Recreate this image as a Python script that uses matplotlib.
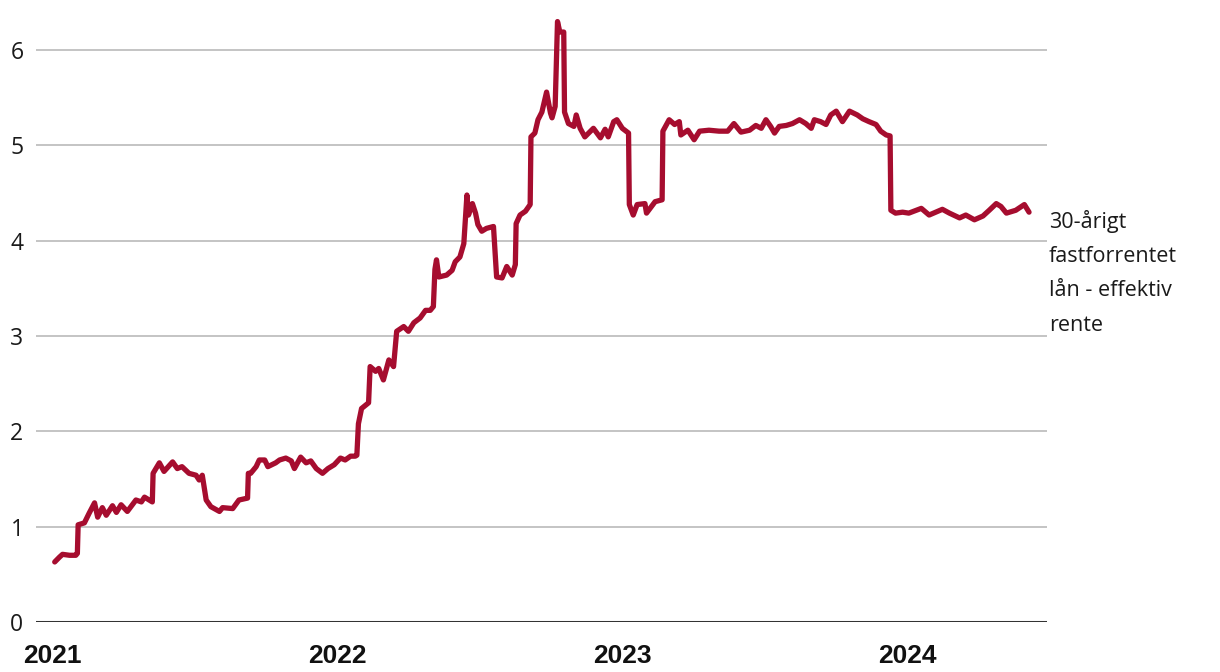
"""30-årigt fastforrentet lån - effektiv rente, 2021-2024."""

import matplotlib

matplotlib.use("Agg")
import matplotlib.dates as mdates
import matplotlib.pyplot as plt
import pandas as pd

# readings (date, effective rate in %)
dates = [
    "2021-01-04", "2021-01-10", "2021-01-14", "2021-01-23", "2021-01-31", "2021-02-02",
    "2021-02-03", "2021-02-11", "2021-02-17", "2021-02-24", "2021-02-28", "2021-03-06",
    "2021-03-11", "2021-03-19", "2021-03-24", "2021-03-30", "2021-04-07", "2021-04-18",
    "2021-04-25", "2021-04-29", "2021-05-09", "2021-05-10", "2021-05-18", "2021-05-24",
    "2021-06-04", "2021-06-10", "2021-06-16", "2021-06-25", "2021-07-04", "2021-07-08",
    "2021-07-12", "2021-07-17", "2021-07-23", "2021-08-03", "2021-08-07", "2021-08-20",
    "2021-08-28", "2021-09-08", "2021-09-09", "2021-09-12", "2021-09-19", "2021-09-23",
    "2021-09-30", "2021-10-04", "2021-10-14", "2021-10-19", "2021-10-27", "2021-11-03",
    "2021-11-07", "2021-11-15", "2021-11-22", "2021-11-28", "2021-12-05", "2021-12-13",
    "2021-12-20", "2021-12-28",
    "2022-01-05", "2022-01-11", "2022-01-18", "2022-01-24", "2022-01-26", "2022-01-28",
    "2022-02-01", "2022-02-10", "2022-02-12", "2022-02-19", "2022-02-23", "2022-03-01",
    "2022-03-08", "2022-03-14", "2022-03-18", "2022-03-27", "2022-04-02", "2022-04-09",
    "2022-04-17", "2022-04-24", "2022-04-30", "2022-05-04", "2022-05-06", "2022-05-08",
    "2022-05-11", "2022-05-21", "2022-05-28", "2022-06-01", "2022-06-07", "2022-06-12",
    "2022-06-16", "2022-06-18", "2022-06-23", "2022-06-27", "2022-06-30", "2022-07-05",
    "2022-07-11", "2022-07-20", "2022-07-24", "2022-07-31", "2022-08-06", "2022-08-13",
    "2022-08-17", "2022-08-18", "2022-08-23", "2022-08-30", "2022-09-05", "2022-09-06",
    "2022-09-11", "2022-09-15", "2022-09-20", "2022-09-26", "2022-10-01", "2022-10-03",
    "2022-10-07", "2022-10-10", "2022-10-13", "2022-10-18", "2022-10-19", "2022-10-24",
    "2022-10-31", "2022-11-03", "2022-11-08", "2022-11-14", "2022-11-25", "2022-12-04",
    "2022-12-10", "2022-12-14", "2022-12-21", "2022-12-25",
    "2023-01-01", "2023-01-09", "2023-01-10", "2023-01-15", "2023-01-20", "2023-01-30",
    "2023-02-01", "2023-02-12", "2023-02-21", "2023-02-22", "2023-02-24", "2023-03-02",
    "2023-03-09", "2023-03-15", "2023-03-17", "2023-03-26", "2023-04-03", "2023-04-10",
    "2023-04-22", "2023-05-05", "2023-05-16", "2023-05-24", "2023-06-02", "2023-06-13",
    "2023-06-21", "2023-06-28", "2023-07-04", "2023-07-10", "2023-07-15", "2023-07-21",
    "2023-07-30", "2023-08-07", "2023-08-16", "2023-08-24", "2023-08-31", "2023-09-04",
    "2023-09-12", "2023-09-19", "2023-09-25", "2023-10-02", "2023-10-10", "2023-10-19",
    "2023-10-29", "2023-11-05", "2023-11-13", "2023-11-22", "2023-11-28", "2023-12-05",
    "2023-12-10", "2023-12-11", "2023-12-17", "2023-12-26",
    "2024-01-03", "2024-01-19", "2024-01-29", "2024-02-15", "2024-02-24", "2024-03-08",
    "2024-03-16", "2024-03-27", "2024-04-07", "2024-04-15", "2024-04-24", "2024-04-30",
    "2024-05-07", "2024-05-19", "2024-05-30", "2024-06-05",
]
rates = [
    0.63, 0.68, 0.71, 0.70, 0.70, 0.72,
    1.02, 1.04, 1.14, 1.25, 1.10, 1.20,
    1.12, 1.22, 1.15, 1.23, 1.16, 1.28,
    1.26, 1.31, 1.26, 1.56, 1.67, 1.58,
    1.68, 1.61, 1.63, 1.56, 1.54, 1.49,
    1.54, 1.28, 1.21, 1.16, 1.20, 1.19,
    1.28, 1.30, 1.56, 1.56, 1.63, 1.70,
    1.70, 1.63, 1.67, 1.70, 1.72, 1.69,
    1.61, 1.73, 1.67, 1.69, 1.61, 1.56,
    1.61, 1.65,
    1.72, 1.70, 1.74, 1.74, 1.75, 2.08,
    2.24, 2.30, 2.68, 2.63, 2.66, 2.54,
    2.75, 2.68, 3.05, 3.10, 3.05, 3.14,
    3.19, 3.27, 3.27, 3.31, 3.70, 3.80,
    3.62, 3.64, 3.69, 3.78, 3.83, 3.97,
    4.48, 4.27, 4.39, 4.29, 4.17, 4.10,
    4.13, 4.15, 3.62, 3.61, 3.73, 3.64,
    3.75, 4.18, 4.27, 4.31, 4.38, 5.09,
    5.13, 5.27, 5.35, 5.56, 5.34, 5.29,
    5.41, 6.30, 6.19, 6.19, 5.35, 5.23,
    5.20, 5.32, 5.18, 5.09, 5.18, 5.08,
    5.17, 5.09, 5.25, 5.27,
    5.18, 5.13, 4.38, 4.27, 4.38, 4.39,
    4.29, 4.41, 4.43, 5.15, 5.18, 5.27,
    5.22, 5.25, 5.11, 5.16, 5.06, 5.15,
    5.16, 5.15, 5.15, 5.23, 5.14, 5.16,
    5.21, 5.18, 5.27, 5.20, 5.13, 5.20,
    5.21, 5.23, 5.27, 5.23, 5.18, 5.27,
    5.25, 5.22, 5.32, 5.36, 5.25, 5.36,
    5.32, 5.28, 5.25, 5.22, 5.15, 5.11,
    5.10, 4.32, 4.29, 4.30,
    4.29, 4.34, 4.27, 4.33, 4.29, 4.24,
    4.27, 4.22, 4.26, 4.32, 4.39, 4.36,
    4.29, 4.32, 4.38, 4.30,
]
year_ticks = ["2021-01-01", "2022-01-01", "2023-01-01", "2024-01-01"]
y_ticks = [0, 1, 2, 3, 4, 5, 6]
series_label = "30-årigt\nfastforrentet\nlån - effektiv\nrente"

LINE_COLOR = "#a60d2f"
GRID_COLOR = "#c4c4c4"

x = pd.to_datetime(dates)

fig = plt.figure(figsize=(12.2, 6.72), dpi=100)
ax = fig.add_axes([0.0295, 0.0744, 0.8287, 0.9077])

ax.plot(x, rates, color=LINE_COLOR, linewidth=3.8, solid_joinstyle="round",
        solid_capstyle="round", clip_on=False, zorder=3)

ax.set_ylim(0, 6.4)
ax.set_xlim(pd.Timestamp("2020-12-11"), pd.Timestamp("2024-06-28"))

ax.set_yticks(y_ticks)
ax.set_yticklabels([str(v) for v in y_ticks], fontfamily="Open Sans", fontsize=16.5,
                   color="#1a1a1a")
ax.set_xticks(pd.to_datetime(year_ticks))
ax.xaxis.set_major_formatter(mdates.DateFormatter("%Y"))
for lab in ax.get_xticklabels():
    lab.set_fontfamily(["Liberation Sans Narrow", "Liberation Sans"])
    lab.set_fontweight("bold")
    lab.set_fontsize(19)
    lab.set_color("#111111")

ax.tick_params(axis="y", length=0, pad=9)
ax.tick_params(axis="x", length=0, pad=16)

for v in y_ticks[1:]:
    ax.axhline(v, color=GRID_COLOR, linewidth=1.4, zorder=1)
ax.axhline(0, color="#333333", linewidth=2.2, zorder=2)

for side in ["top", "right", "left", "bottom"]:
    ax.spines[side].set_visible(False)

ax.annotate(series_label, xy=(1.0, rates[-1]), xycoords=("axes fraction", "data"),
            xytext=(2, 2), textcoords="offset pixels", ha="left", va="top",
            fontfamily="Open Sans", fontsize=15.5, color="#1a1a1a", linespacing=1.82,
            annotation_clip=False)

fig.savefig("out.png", dpi=100, facecolor="white")
